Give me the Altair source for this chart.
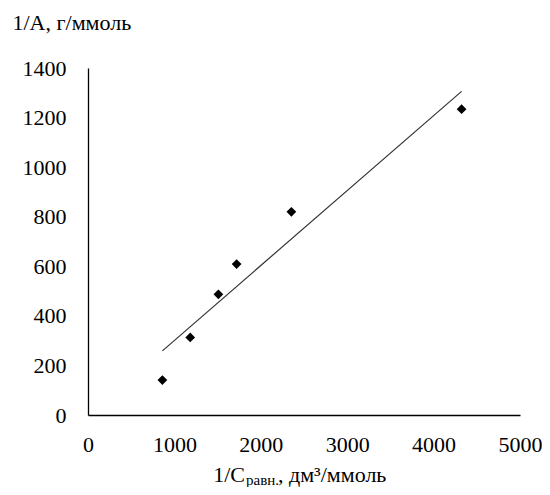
import altair as alt
import pandas as pd

# Data
inv_c = [861, 1183, 1509, 1720, 2354, 4324]      # 1/C равн., дм3/ммоль
inv_a = [141, 313, 487, 609, 820, 1234]          # 1/A, г/ммоль

x_ticks = [0, 1000, 2000, 3000, 4000, 5000]
y_ticks = [0, 200, 400, 600, 800, 1000, 1200, 1400]

df = pd.DataFrame({"x": inv_c, "y": inv_a})

FONT = "Liberation Serif"
FS = 22

xs = alt.X("x:Q", scale=alt.Scale(domain=[0, 5000], nice=False),
           axis=alt.Axis(values=x_ticks, grid=False, ticks=False, title=None,
                         format="d",
                         labelFont=FONT, labelFontSize=FS, labelColor="black",
                         labelPadding=19, domainColor="black", domainWidth=1.3,
                         labelFlush=False))
ys = alt.Y("y:Q", scale=alt.Scale(domain=[0, 1400], nice=False),
           axis=alt.Axis(values=y_ticks, grid=False, ticks=False, format="d",
                         title="1/А, г/ммоль", titleAngle=0, titleAlign="left",
                         titleBaseline="middle", titleX=-76, titleY=-46,
                         titleFont=FONT, titleFontSize=FS, titleFontWeight="normal",
                         titleColor="black",
                         labelFont=FONT, labelFontSize=FS, labelColor="black",
                         labelPadding=22, domainColor="black", domainWidth=1.3,
                         labelFlush=False))

points = alt.Chart(df).mark_point(shape="diamond", filled=True, color="black",
                                  size=95, opacity=1).encode(x=xs, y=ys)

trend = alt.Chart(df).transform_regression("x", "y").mark_line(
    color="#333333", strokeWidth=1.2).encode(x="x:Q", y="y:Q")

one = pd.DataFrame({"a": [0]})
t1 = alt.Chart(one).mark_text(text="1/C", font=FONT, fontSize=FS, align="right",
                              baseline="alphabetic", color="black").encode(
    x=alt.value(157), y=alt.value(414))
t2 = alt.Chart(one).mark_text(text="равн.", font=FONT, fontSize=15, align="left",
                              baseline="alphabetic", color="black").encode(
    x=alt.value(158), y=alt.value(417))
t3 = alt.Chart(one).mark_text(text=", дм³/ммоль", font=FONT, fontSize=FS, align="left",
                              baseline="alphabetic", color="black").encode(
    x=alt.value(190), y=alt.value(414))

chart = alt.layer(trend, points, t1, t2, t3).properties(
    width=432, height=347,
    padding={"left": 80, "top": 60, "right": 22, "bottom": 72},
    autosize=alt.AutoSizeParams(type="none"),
    background="white",
).configure_view(stroke=None)

chart.save("out.html", embed_options={"renderer": "svg", "actions": False})
